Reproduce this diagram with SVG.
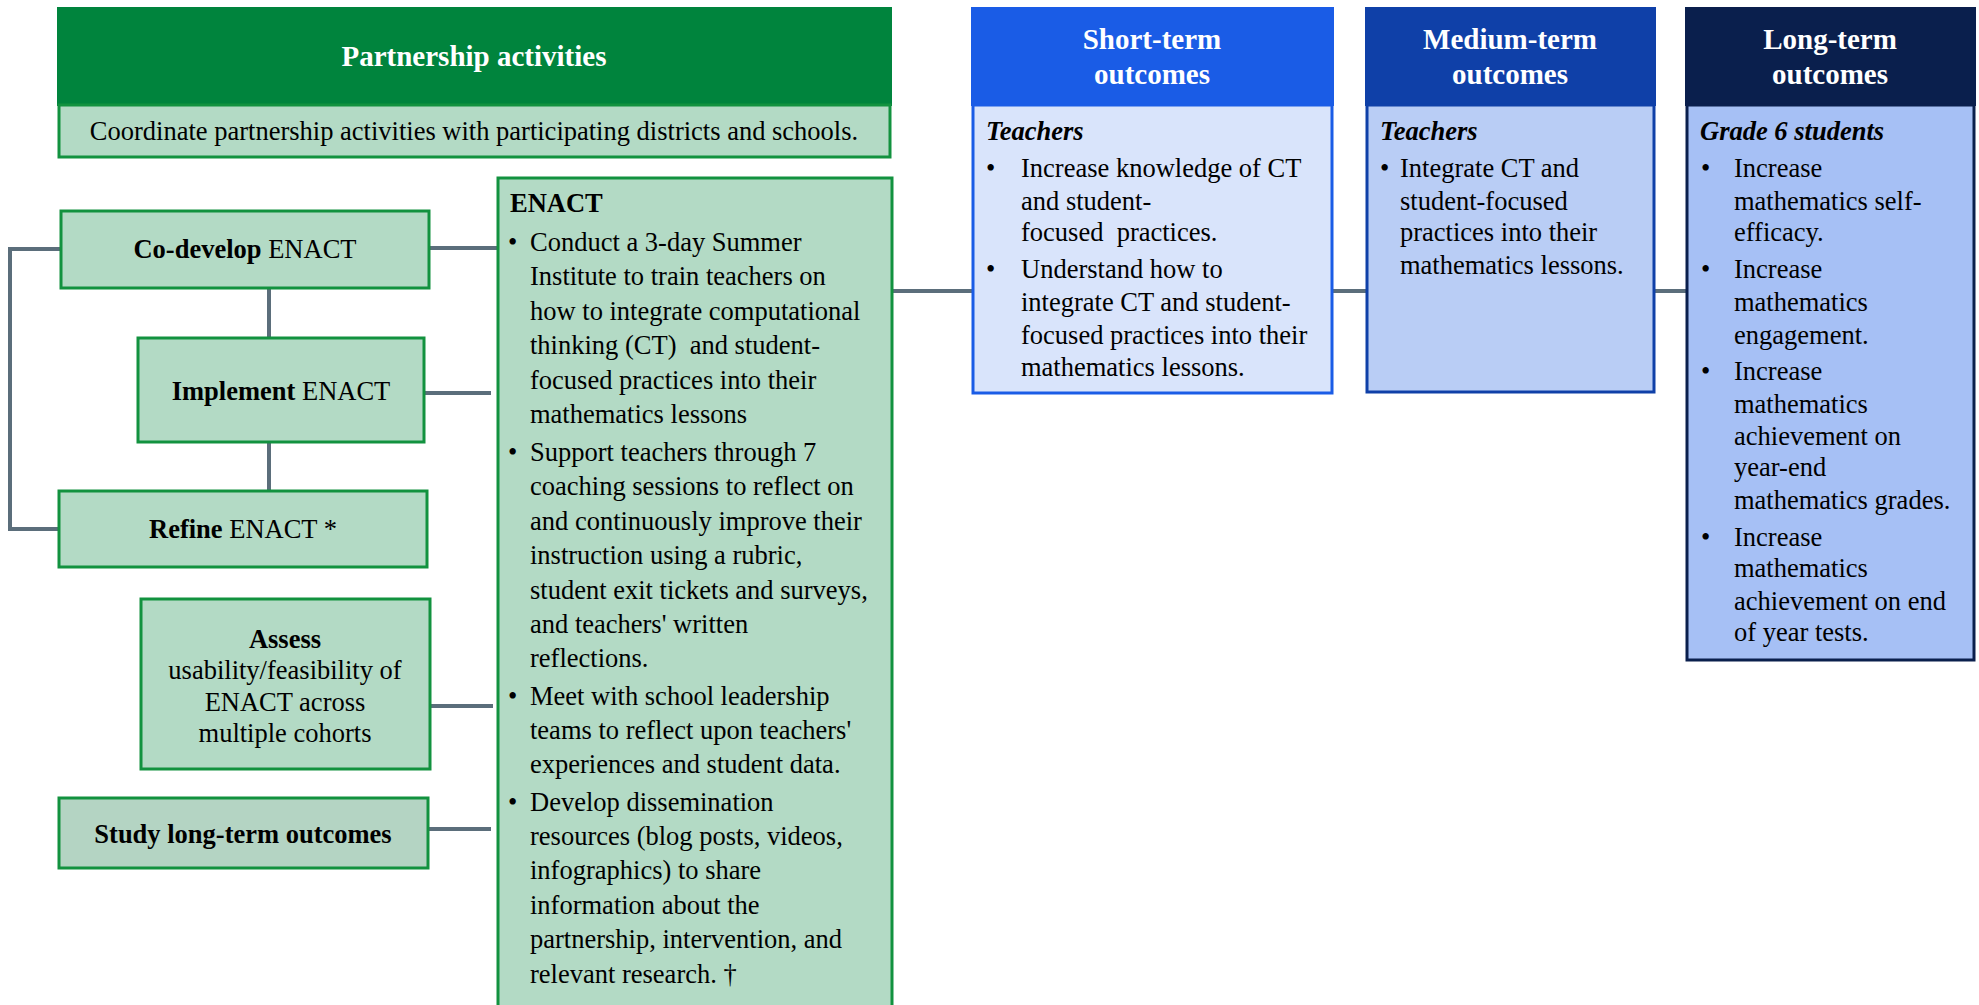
<svg xmlns="http://www.w3.org/2000/svg" width="1979" height="1005" viewBox="0 0 1979 1005">
<style>
text{font-family:"Liberation Serif","Times New Roman",serif;font-size:26.5px;fill:#000}
.b{font-weight:bold}
.i{font-style:italic;font-weight:bold}
.hd{font-size:29px;font-weight:bold;fill:#fff}
.mid{text-anchor:middle}
.gbox{fill:#b3dac5;stroke:#12923f;stroke-width:3}
.conn{stroke:#5b6e7b;stroke-width:4;fill:none}
</style>
<rect width="1979" height="1005" fill="#fff"/>
<g id="connectors">
<polyline class="conn" points="61,249 10,249 10,529 58,529"/>
<line class="conn" x1="269" y1="288" x2="269" y2="338"/>
<line class="conn" x1="269" y1="442" x2="269" y2="491"/>
<line class="conn" x1="429" y1="248" x2="497" y2="248"/>
<line class="conn" x1="424" y1="393" x2="491" y2="393"/>
<line class="conn" x1="430" y1="706" x2="493" y2="706"/>
<line class="conn" x1="428" y1="829" x2="491" y2="829"/>
<line class="conn" x1="892" y1="291" x2="972" y2="291"/>
<line class="conn" x1="1333" y1="291" x2="1366" y2="291"/>
<line class="conn" x1="1655" y1="291" x2="1686" y2="291"/>
</g>
<g id="partnership">
<rect x="58" y="8" width="833" height="97" fill="#00843d" stroke="#00843d" stroke-width="2"/>
<text class="hd mid" x="474" y="66">Partnership activities</text>
<rect x="59" y="105" width="831" height="52" class="gbox"/>
<text class="mid" x="474" y="140">Coordinate partnership activities with participating districts and schools.</text>
</g>
<g id="codevelop">
<rect x="61" y="211" width="368" height="77" class="gbox"/>
<text class="mid" x="245" y="258"><tspan class="b">Co-develop</tspan> ENACT</text>
</g>
<g id="implement">
<rect x="138" y="338" width="286" height="104" class="gbox"/>
<text class="mid" x="281" y="400"><tspan class="b">Implement</tspan> ENACT</text>
</g>
<g id="refine">
<rect x="59" y="491" width="368" height="76" class="gbox"/>
<text class="mid" x="243" y="538"><tspan class="b">Refine</tspan> ENACT *</text>
</g>
<g id="assess">
<rect x="141" y="599" width="289" height="170" class="gbox"/>
<text class="mid" x="285" y="648" font-weight="bold">Assess</text>
<text class="mid" x="285" y="679">usability/feasibility of</text>
<text class="mid" x="285" y="711">ENACT across</text>
<text class="mid" x="285" y="742">multiple cohorts</text>
</g>
<g id="study">
<rect x="59" y="798" width="369" height="70" fill="#b4d4c3" stroke="#12923f" stroke-width="3"/>
<text class="mid b" x="243" y="843">Study long-term outcomes</text>
</g>
<g id="enact">
<rect x="498" y="178" width="394" height="840" class="gbox"/>
<text class="b" x="510" y="212">ENACT</text>
<text x="508" y="251">•</text>
<text x="530" y="251">Conduct a 3-day Summer</text>
<text x="530" y="285.4">Institute to train teachers on</text>
<text x="530" y="319.8">how to integrate computational</text>
<text x="530" y="354.2" xml:space="preserve">thinking (CT)  and student-</text>
<text x="530" y="388.6">focused practices into their</text>
<text x="530" y="423">mathematics lessons</text>
<text x="508" y="461">•</text>
<text x="530" y="461">Support teachers through 7</text>
<text x="530" y="495.4">coaching sessions to reflect on</text>
<text x="530" y="529.8">and continuously improve their</text>
<text x="530" y="564.2">instruction using a rubric,</text>
<text x="530" y="598.6">student exit tickets and surveys,</text>
<text x="530" y="633">and teachers' written</text>
<text x="530" y="667.4">reflections.</text>
<text x="508" y="704.5">•</text>
<text x="530" y="704.5">Meet with school leadership</text>
<text x="530" y="739">teams to reflect upon teachers'</text>
<text x="530" y="773.4">experiences and student data.</text>
<text x="508" y="810.5">•</text>
<text x="530" y="810.5">Develop dissemination</text>
<text x="530" y="845">resources (blog posts, videos,</text>
<text x="530" y="879.4">infographics) to share</text>
<text x="530" y="913.8">information about the</text>
<text x="530" y="948.2">partnership, intervention, and</text>
<text x="530" y="982.6">relevant research. †</text>
</g>
<g id="short-term">
<rect x="972" y="8" width="361" height="97" fill="#1a5ce6" stroke="#1a5ce6" stroke-width="2"/>
<text class="hd mid" x="1152" y="49">Short-term</text>
<text class="hd mid" x="1152" y="84">outcomes</text>
<rect x="973" y="105" width="359" height="288" fill="#d9e4fb" stroke="#1a5ce6" stroke-width="3"/>
<text class="i" x="986" y="140">Teachers</text>
<text x="986" y="177">•</text>
<text x="1021" y="177">Increase knowledge of CT</text>
<text x="1021" y="210">and student-</text>
<text x="1021" y="241" xml:space="preserve">focused  practices.</text>
<text x="986" y="278">•</text>
<text x="1021" y="278">Understand how to</text>
<text x="1021" y="311">integrate CT and student-</text>
<text x="1021" y="343.5">focused practices into their</text>
<text x="1021" y="376">mathematics lessons.</text>
</g>
<g id="medium-term">
<rect x="1366" y="8" width="289" height="97" fill="#0f40a8" stroke="#0f40a8" stroke-width="2"/>
<text class="hd mid" x="1510" y="49">Medium-term</text>
<text class="hd mid" x="1510" y="84">outcomes</text>
<rect x="1367" y="105" width="287" height="287" fill="#b9cdf5" stroke="#0f40a8" stroke-width="3"/>
<text class="i" x="1380" y="140">Teachers</text>
<text x="1380" y="177">•</text>
<text x="1400" y="177">Integrate CT and</text>
<text x="1400" y="210">student-focused</text>
<text x="1400" y="241">practices into their</text>
<text x="1400" y="274">mathematics lessons.</text>
</g>
<g id="long-term">
<rect x="1686" y="8" width="289" height="97" fill="#0a1f4d" stroke="#0a1f4d" stroke-width="2"/>
<text class="hd mid" x="1830" y="49">Long-term</text>
<text class="hd mid" x="1830" y="84">outcomes</text>
<rect x="1687" y="105" width="287" height="555" fill="#a6c0f5" stroke="#0a1f4d" stroke-width="3"/>
<text class="i" x="1700" y="140">Grade 6 students</text>
<text x="1701" y="177">•</text>
<text x="1734" y="177">Increase</text>
<text x="1734" y="210">mathematics self-</text>
<text x="1734" y="241">efficacy.</text>
<text x="1701" y="278">•</text>
<text x="1734" y="278">Increase</text>
<text x="1734" y="311">mathematics</text>
<text x="1734" y="343.5">engagement.</text>
<text x="1701" y="380">•</text>
<text x="1734" y="380">Increase</text>
<text x="1734" y="413">mathematics</text>
<text x="1734" y="444.5">achievement on</text>
<text x="1734" y="476">year-end</text>
<text x="1734" y="509">mathematics grades.</text>
<text x="1701" y="545.5">•</text>
<text x="1734" y="545.5">Increase</text>
<text x="1734" y="577">mathematics</text>
<text x="1734" y="610">achievement on end</text>
<text x="1734" y="641">of year tests.</text>
</g>
</svg>
